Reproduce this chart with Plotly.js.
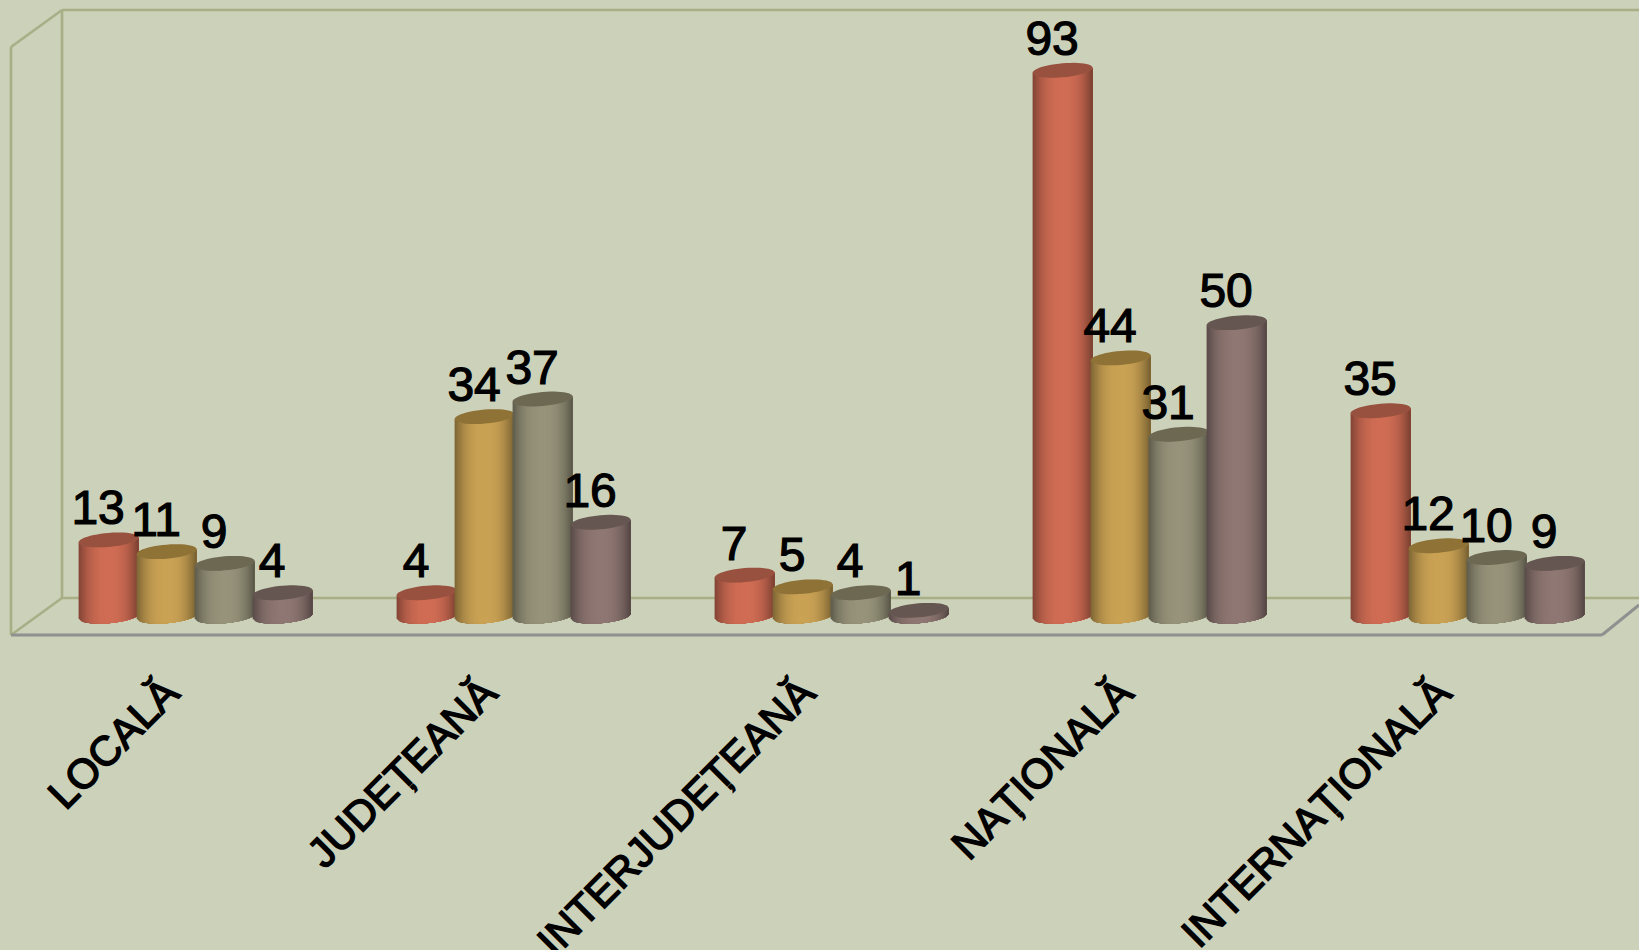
<!DOCTYPE html>
<html><head><meta charset="utf-8">
<script src="https://cdn.plot.ly/plotly-3.0.1.min.js"></script>
<style>html,body{margin:0;padding:0;background:#CCD1BA;overflow:hidden}#c{width:1639px;height:950px}
.textpoint text{stroke:#000;stroke-width:1.2px}
.xtick text{stroke:#000;stroke-width:1.5px}
</style>
</head><body><div id="c"></div>
<script>
const categories = ["LOCALĂ","JUDEȚEANĂ","INTERJUDEȚEANĂ","NAȚIONALĂ","INTERNAȚIONALĂ"];
const series1 = [13,4,7,93,35];
const series2 = [11,34,5,44,12];
const series3 = [9,37,4,31,10];
const series4 = [4,16,1,50,9];
const allSeries = [series1,series2,series3,series4];
const seriesNames = ["Seria 1","Seria 2","Seria 3","Seria 4"];
const bodyColors = [[208,108,84],[202,162,84],[151,147,122],[143,119,115]];
const topColors = ["#98513F","#8E7236","#6C6852","#655651"];

// layout geometry (pixels)
const W=1639,H=950,plotBottom=634,zeroPx=616.2,pxPerUnit=5.87,groupStart=195.6,groupStep=318;
const barStep=58,rx=30,ry=7,tilt=2.5,bands=30,labelDx=-10.5,labelDy=3.5;
const yTop=zeroPx/pxPerUnit, yBottom=(zeroPx-plotBottom)/pxPerUnit;
const xLeft=-groupStart/groupStep, xRight=(W-groupStart)/groupStep;
const dx=p=>p/groupStep, dy=p=>p/pxPerUnit;
const center=(g,s)=>g+dx((s-1.5)*barStep);
const rgb=c=>`rgb(${c.map(v=>Math.round(v)).join(',')})`;
function shade(c,u){
  const a=Math.abs(u-0.03);
  const k=u<0.03?1-0.36*Math.pow(a,2.6):1-0.46*Math.pow(a,2.4);
  return rgb(c.map(v=>v*k));
}
// lower edge of an elliptical section of the cylinder at position u (-1..1), in pixels above the centre
const lowerEdge=u=>-ry*Math.sqrt(Math.max(0,1-u*u))+tilt*u;

const traces=[];
allSeries.forEach((vals,s)=>{
  traces.push({type:'bar',name:seriesNames[s],x:vals.map((_,g)=>center(g,s)),y:vals,width:dx(2*rx*0.8),
    marker:{color:rgb(bodyColors[s]),line:{width:0}},hoverinfo:'skip',showlegend:false});
});
allSeries.forEach((vals,s)=>{
  for(let k=0;k<bands;k++){
    const u0=-1+2*k/bands, xs=[], ys=[];
    vals.forEach((v,g)=>{
      const cx=center(g,s), N=14, us=[];
      for(let i=0;i<=N;i++){ const f=i/N; us.push(u0+(1-u0)*f); }
      us.forEach(u=>{xs.push(cx+dx(rx*u)); ys.push(v+dy(lowerEdge(u)));});
      us.slice().reverse().forEach(u=>{xs.push(cx+dx(rx*u)); ys.push(dy(lowerEdge(u)));});
      xs.push(null); ys.push(null);
    });
    traces.push({type:'scatter',mode:'none',fill:'toself',x:xs,y:ys,fillcolor:shade(bodyColors[s],u0+1/bands),hoverinfo:'skip',showlegend:false});
  }
  const tx=[],ty=[];
  vals.forEach((v,g)=>{
    const cx=center(g,s);
    for(let i=0;i<=48;i++){
      const t=2*Math.PI*i/48;
      tx.push(cx+dx(rx*Math.cos(t)));
      ty.push(v+dy(ry*Math.sin(t)+tilt*Math.cos(t)));
    }
    tx.push(null);ty.push(null);
  });
  traces.push({type:'scatter',mode:'none',fill:'toself',x:tx,y:ty,fillcolor:topColors[s],hoverinfo:'skip',showlegend:false});
});
allSeries.forEach((vals,s)=>{
  traces.push({type:'scatter',mode:'text',x:vals.map((_,g)=>center(g,s)+dx(labelDx)),y:vals.map(v=>v+dy(labelDy)),
    text:vals.map(String),textposition:'top center',cliponaxis:false,
    textfont:{family:'"Liberation Sans"',size:48,color:'#000'},hoverinfo:'skip',showlegend:false});
});

const wall='#A8AF87', floor='#8E918F';
const px=p=>p/W, py=p=>1-p/plotBottom;
const seg=(x0,y0,x1,y1,c,w)=>({type:'line',xref:'paper',yref:'paper',x0:px(x0),y0:py(y0),x1:px(x1),y1:py(y1),line:{color:c,width:w},layer:'below'});
const shapes=[
  seg(11,47,62,10,wall,2.7),seg(62,10,W,10,wall,2.7),seg(62,10,62,598,wall,2.7),seg(11,47,11,635,wall,2.7),
  seg(11,635,62,598,wall,2.7),seg(62,598,W,598,wall,2.7),
  seg(11,635,1602,635,floor,3),seg(1602,635,W,605,floor,3)
];
Plotly.newPlot('c',traces,{
  width:W,height:H,margin:{l:0,r:0,t:0,b:H-plotBottom,pad:0},
  paper_bgcolor:'#CCD1BA',plot_bgcolor:'#CCD1BA',showlegend:false,barmode:'overlay',
  xaxis:{range:[xLeft,xRight],tickmode:'array',tickvals:categories.map((_,i)=>i),ticktext:categories,tickangle:-45,
    ticks:'',showgrid:false,zeroline:false,showline:false,automargin:false,ticklabelstandoff:25,ticklabelshift:-29,
    tickfont:{family:'"Liberation Sans"',size:41.5,color:'#000'},fixedrange:true},
  yaxis:{range:[yBottom,yTop],visible:false,showgrid:false,zeroline:false,fixedrange:true},
  shapes:shapes
},{displayModeBar:false,staticPlot:true});
</script></body></html>
